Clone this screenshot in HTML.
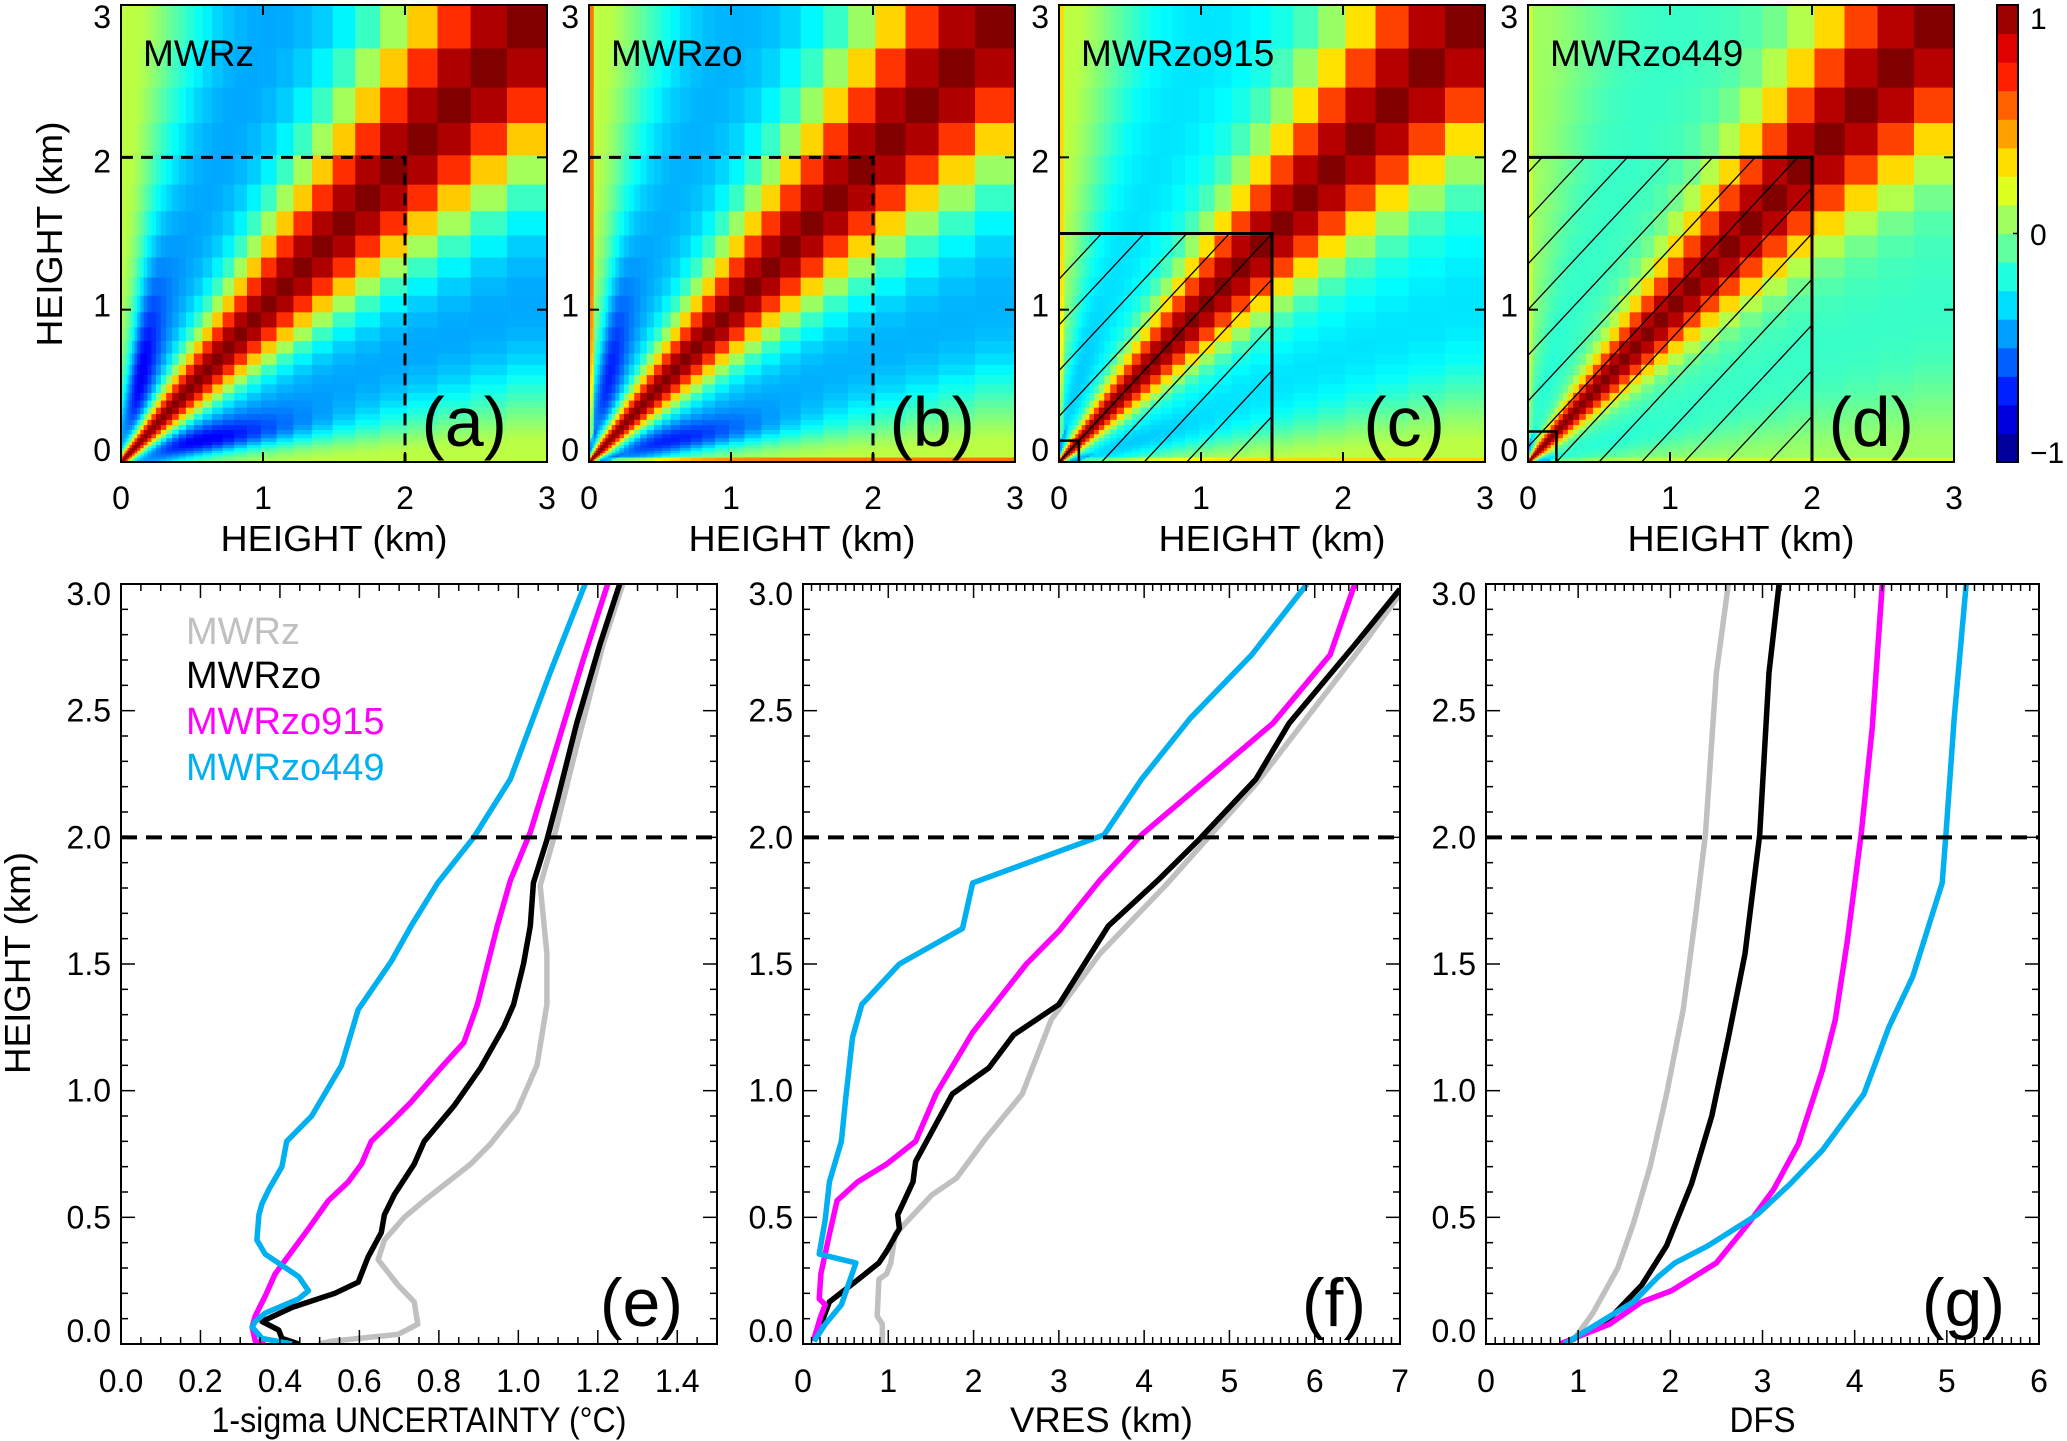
<!DOCTYPE html>
<html><head><meta charset="utf-8">
<style>
html,body{margin:0;padding:0;background:#fff;}
svg{display:block;font-family:"Liberation Sans",sans-serif;}
</style></head>
<body>
<svg id="fig" width="2067" height="1441" viewBox="0 0 2067 1441" xmlns="http://www.w3.org/2000/svg">
<rect x="0" y="0" width="2067" height="1441" fill="#fff"/>
</svg>
<script>
// ---------- DATA ----------
const eZx  = [1.263,1.213,1.147,1.088,1.055,1.072,1.072,1.047,0.997,0.93,0.88,0.763,0.713,0.663,0.647,0.697,0.738,0.747,0.697,0.53,0.497];
const eZh  = [3.0,2.76,2.36,1.99,1.81,1.54,1.34,1.10,0.92,0.79,0.71,0.566,0.50,0.41,0.333,0.233,0.166,0.078,0.038,0.011,0];
const eZOx = [1.255,1.205,1.147,1.097,1.072,1.038,1.03,1.013,0.988,0.963,0.905,0.838,0.763,0.738,0.688,0.663,0.655,0.622,0.597,0.538,0.43,0.355,0.397,0.405,0.447];
const eZOh = [3.0,2.76,2.45,2.14,1.99,1.82,1.65,1.50,1.34,1.25,1.09,0.94,0.80,0.71,0.59,0.51,0.44,0.344,0.244,0.20,0.144,0.089,0.055,0.022,0];
const e915x = [1.225,1.163,1.097,1.03,0.98,0.947,0.897,0.863,0.805,0.73,0.68,0.63,0.605,0.572,0.522,0.472,0.43,0.388,0.363,0.338,0.33,0.338,0.363];
const e915h = [3.0,2.70,2.36,2.02,1.83,1.65,1.34,1.19,1.09,0.955,0.876,0.80,0.71,0.64,0.566,0.455,0.366,0.277,0.189,0.111,0.067,0.011,0];
const e449x = [1.168,1.08,0.98,0.888,0.797,0.73,0.68,0.597,0.555,0.48,0.417,0.405,0.372,0.355,0.347,0.342,0.363,0.447,0.472,0.447,0.363,0.338,0.33,0.355,0.43];
const e449h = [3.0,2.65,2.23,2.0,1.82,1.65,1.51,1.32,1.10,0.90,0.80,0.70,0.61,0.555,0.51,0.41,0.355,0.266,0.21,0.178,0.122,0.089,0.067,0.022,0];
const fZx  = [7.0,6.52,5.31,4.25,3.48,2.91,2.57,2.14,1.80,1.51,1.08,1.03,0.98,0.89,0.87,0.93,0.93];
const fZh  = [2.96,2.74,2.21,1.81,1.54,1.28,0.987,0.81,0.655,0.588,0.433,0.32,0.277,0.255,0.111,0.078,0.004];
const fZOx = [7.0,6.47,5.70,5.31,4.64,4.16,3.58,3.0,2.47,2.18,1.75,1.32,1.29,1.11,1.13,0.98,0.89,0.69,0.31,0.26,0.21];
const fZOh = [2.98,2.76,2.45,2.23,1.99,1.83,1.65,1.34,1.22,1.09,0.987,0.72,0.64,0.51,0.455,0.366,0.32,0.266,0.166,0.122,0.078];
const f915x = [6.47,6.18,5.51,4.74,3.97,3.48,3.0,2.62,1.99,1.56,1.32,0.98,0.64,0.40,0.31,0.21,0.19,0.26,0.21,0.12];
const f915h = [3.0,2.72,2.45,2.23,2.01,1.83,1.63,1.50,1.23,0.987,0.80,0.71,0.64,0.566,0.433,0.277,0.178,0.155,0.111,0.011];
const f449x = [5.91,5.26,4.54,3.97,3.53,1.99,1.87,1.13,0.69,0.58,0.50,0.45,0.31,0.26,0.19,0.62,0.45,0.26,0.13];
const f449h = [3.0,2.72,2.47,2.23,2.01,1.82,1.64,1.50,1.34,1.21,0.965,0.80,0.64,0.49,0.355,0.32,0.155,0.078,0.011];
const gZx  = [2.63,2.50,2.38,2.27,2.14,1.96,1.78,1.60,1.43,1.16,0.94];
const gZh  = [3.0,2.65,2.01,1.68,1.32,0.987,0.70,0.477,0.30,0.122,0.011];
const gZOx = [3.18,3.07,2.97,2.81,2.63,2.45,2.23,1.96,1.69,1.34,0.85];
const gZOh = [3.0,2.65,2.01,1.54,1.21,0.90,0.632,0.388,0.233,0.10,0];
const g915x = [4.30,4.19,4.07,3.92,3.79,3.65,3.39,3.12,2.85,2.50,2.01,1.69,1.34,0.80];
const g915h = [3.0,2.43,2.01,1.59,1.28,1.08,0.79,0.61,0.477,0.32,0.21,0.166,0.078,0];
const g449x = [5.21,5.08,4.99,4.95,4.63,4.37,4.10,3.65,3.30,2.94,2.41,2.05,1.87,1.60,1.25,0.85];
const g449h = [3.0,2.47,2.01,1.82,1.45,1.25,0.987,0.765,0.632,0.51,0.388,0.32,0.266,0.166,0.089,0];
const eTicks = ["0.0","0.2","0.4","0.6","0.8","1.0","1.2","1.4"];
const fTicks = ["0","1","2","3","4","5","6","7"];
const gTicks = ["0","1","2","3","4","5","6"];
const hTicks = ["0.0","0.5","1.0","1.5","2.0","2.5","3.0"];
const topTicks = ["0","1","2","3"];

// ---------- helpers ----------
const NS="http://www.w3.org/2000/svg";
const svg=document.getElementById('fig');
function mk(tag,attrs,parent){const e=document.createElementNS(NS,tag);for(const k in attrs)e.setAttribute(k,attrs[k]);(parent||svg).appendChild(e);return e;}
function txt(s,x,y,size,attrs,parent){const t=mk('text',Object.assign({x:x,y:y,'font-size':size,fill:'#000'},attrs||{}),parent);t.textContent=s;return t;}
function clamp(v){return Math.max(0,Math.min(1,v));}
function jet(t){const r=clamp(1.5-Math.abs(4*t-3)),g=clamp(1.5-Math.abs(4*t-2)),b=clamp(1.5-Math.abs(4*t-1));return `rgb(${Math.round(r*255)},${Math.round(g*255)},${Math.round(b*255)})`;}

// ---------- heatmaps ----------
const N=36;
const edges=[];{let raw=[];for(let k=0;k<=N;k++)raw.push(Math.pow(1.1,k)-1);const mx=raw[N];for(let k=0;k<=N;k++)edges.push(3*raw[k]/mx);}
const panels=[
 {id:'a',x0:121,name:'MWRz',s:3.4,mid:-0.42,far:0.12,low:-0.36,strip:0,corner:0,dash:true},
 {id:'b',x0:589,name:'MWRzo',s:3.3,mid:-0.4,far:0.12,low:-0.3,strip:0.4,corner:-0.35,dash:true},
 {id:'c',x0:1059,name:'MWRzo915',s:3.1,mid:-0.3,far:0.12,low:-0.05,strip:0.2,corner:-0.35,box:1.5,small:0.14,hatch:0.3},
 {id:'d',x0:1528,name:'MWRzo449',s:3.0,mid:-0.14,far:0.06,low:-0.03,strip:0.1,corner:-0.4,box:2.0,small:0.2,hatch:0.3}
];
const TY0=5,TY1=462,TW=426;
function val(i,j,p){const d=Math.abs(i-j),m=Math.min(i,j);
 const core=Math.exp(-Math.pow(d/p.s,2));
 let v=core+p.mid*Math.exp(-Math.pow((d-10)/8,2))*(1-core)+p.far*clamp((d-14)/12);
 v+=p.low*Math.exp(-Math.pow((m-9)/5,2))*Math.exp(-Math.pow((d-11)/6,2));
 if(m<=2&&d>5)v+=p.strip*clamp((d-5)/4);
 if(m<5&&d>=2&&d<9)v+=p.corner*(1-m/5);
 return Math.max(-1,Math.min(1,v));}
panels.forEach(p=>{
 const g=mk('g',{});
 
 
 const sx=km=>p.x0+km/3*TW, sy=km=>TY1-km/3*(TY1-TY0);
 for(let i=0;i<N;i++)for(let j=0;j<N;j++){
  const x1=sx(edges[i]),x2=sx(edges[i+1]),y1=sy(edges[j+1]),y2=sy(edges[j]);
  const r=mk('rect',{x:x1.toFixed(2),y:y1.toFixed(2),width:(x2-x1+0.6).toFixed(2),height:(y2-y1+0.6).toFixed(2),fill:jet((val(i,j,p)+1)/2)},g);
  
  
 }
 if(p.dash){
  mk('path',{d:`M${sx(0)},${sy(2)}H${sx(2)}V${sy(0)}`,stroke:'#000','stroke-width':3,fill:'none','stroke-dasharray':'12,8'},g);
 }
 if(p.box){
  const cid='clip'+p.id;
  const cp=mk('clipPath',{id:cid},g);
  mk('rect',{x:sx(0),y:sy(p.box),width:sx(p.box)-sx(0),height:sy(0)-sy(p.box)},cp);
  const hg=mk('g',{'clip-path':`url(#${cid})`},g);
  
  
  for(let c=-p.box;c<=p.box;c+=p.hatch){
   mk('line',{x1:sx(0),y1:sy(c),x2:sx(3),y2:sy(c+3),stroke:'#000','stroke-width':1.3},hg);
  }
  mk('path',{d:`M${sx(0)},${sy(p.box)}H${sx(p.box)}V${sy(0)}`,stroke:'#000','stroke-width':3,fill:'none'},g);
  mk('path',{d:`M${sx(0)},${sy(p.small)}H${sx(p.small)}V${sy(0)}`,stroke:'#000','stroke-width':2.5,fill:'none'},g);
 }
 mk('rect',{x:p.x0,y:TY0,width:TW,height:TY1-TY0,fill:'none',stroke:'#000','stroke-width':2},g);
 [1,2].forEach(k=>{
  mk('line',{x1:sx(k),y1:TY1,x2:sx(k),y2:TY1-10,stroke:'#000','stroke-width':2},g);
  mk('line',{x1:sx(k),y1:TY0,x2:sx(k),y2:TY0+10,stroke:'#000','stroke-width':2},g);
  mk('line',{x1:p.x0,y1:sy(k),x2:p.x0+10,y2:sy(k),stroke:'#000','stroke-width':2},g);
  mk('line',{x1:p.x0+TW,y1:sy(k),x2:p.x0+TW-10,y2:sy(k),stroke:'#000','stroke-width':2},g);
 });
 const nm=txt(p.name,p.x0+22,66,37,{},g);
 
 
 const pl=txt('('+p.id+')',p.x0+TW-40,446,70,{'text-anchor':'end'},g);
 
 
 topTicks.forEach((s,k)=>{
  const yl=txt(s,p.x0-10,17+(3-k)/3*433+11,32,{'text-anchor':'end'},g);
  
  
  const xl=txt(s,sx(k),509,32,{'text-anchor':'middle'},g);
  
  
 });
 const xt=txt('HEIGHT (km)',p.x0+TW/2,551,36,{'text-anchor':'middle',textLength:227,lengthAdjust:'spacingAndGlyphs'},g);
 
 
});
const yt1=txt('HEIGHT (km)',0,0,36,{'text-anchor':'middle',transform:'translate(62,234) rotate(-90)',textLength:225,lengthAdjust:'spacingAndGlyphs'});



// colorbar
{const g=mk('g',{});
 const L=16,cx=1997,cw=21,h=(TY1-TY0)/L;
 for(let k=0;k<L;k++){mk('rect',{x:cx,y:TY1-(k+1)*h,width:cw,height:h+0.5,fill:jet((k+0.5)/L)},g);}
 mk('rect',{x:cx,y:TY0,width:cw,height:TY1-TY0,fill:'none',stroke:'#000','stroke-width':2},g);
 [['1',18],['0',234],['\u22121',452]].forEach(([s,y])=>{const t=txt(s,2030,y+11,30,{},g);});
 mk('line',{x1:cx+cw,y1:(TY0+TY1)/2,x2:cx+cw-5,y2:(TY0+TY1)/2,stroke:'#000','stroke-width':1.5},g);
}

// ---------- line panels ----------
const BY0=584,BY1=1344;
const lp=[
 {id:'e',x0:121,x1:717,xmax:1.5,ticks:eTicks,tstep:0.2,minor:0.05,title:'1-sigma UNCERTAINTY (\u00B0C)',tl:415,
  series:[[eZx,eZh,'#c0c0c0','mwrz'],[eZOx,eZOh,'#000','mwrzo'],[e915x,e915h,'#ff00ff','mwrzo915'],[e449x,e449h,'#00b0f0','mwrzo449']]},
 {id:'f',x0:803,x1:1400,xmax:7,ticks:fTicks,tstep:1,minor:0.1,title:'VRES (km)',tl:183,
  series:[[fZx,fZh,'#c0c0c0','mwrz'],[fZOx,fZOh,'#000','mwrzo'],[f915x,f915h,'#ff00ff','mwrzo915'],[f449x,f449h,'#00b0f0','mwrzo449']]},
 {id:'g',x0:1486,x1:2039,xmax:6,ticks:gTicks,tstep:1,minor:0.1,title:'DFS',tl:66,
  series:[[gZx,gZh,'#c0c0c0','mwrz'],[gZOx,gZOh,'#000','mwrzo'],[g915x,g915h,'#ff00ff','mwrzo915'],[g449x,g449h,'#00b0f0','mwrzo449']]}
];
lp.forEach(p=>{
 const g=mk('g',{});
 
 
 const sx=v=>p.x0+v/p.xmax*(p.x1-p.x0), sy=h=>BY1-h/3*(BY1-BY0);
 const cid='lclip'+p.id;
 const cp=mk('clipPath',{id:cid},g);
 mk('rect',{x:p.x0,y:BY0,width:p.x1-p.x0,height:BY1-BY0},cp);
 const pg=mk('g',{'clip-path':`url(#${cid})`},g);
 p.series.forEach(([xs,hs,col,nm])=>{
  const pts=xs.map((v,k)=>sx(v).toFixed(1)+','+sy(hs[k]).toFixed(1)).join(' ');
  const pl=mk('polyline',{points:pts,fill:'none',stroke:col,'stroke-width':5.5,'stroke-linejoin':'round','stroke-linecap':'butt'},pg);
  
  
 });
 const dl=mk('line',{x1:p.x0,y1:sy(2),x2:p.x1,y2:sy(2),stroke:'#000','stroke-width':4,'stroke-dasharray':'16,9'},g);
 
 
 mk('rect',{x:p.x0,y:BY0,width:p.x1-p.x0,height:BY1-BY0,fill:'none',stroke:'#000','stroke-width':2},g);
 const nMin=Math.round(p.xmax/p.minor);
 for(let k=0;k<=nMin;k++){const v=k*p.minor;const major=Math.abs(v/p.tstep-Math.round(v/p.tstep))<1e-6;const L=major?14:7;const x=sx(v);
  mk('line',{x1:x,y1:BY1,x2:x,y2:BY1-L,stroke:'#000','stroke-width':1.5},g);
  mk('line',{x1:x,y1:BY0,x2:x,y2:BY0+L,stroke:'#000','stroke-width':1.5},g);}
 for(let k=0;k<=30;k++){const h=k*0.1;const major=k%5===0;const L=major?14:7;const y=sy(h);
  mk('line',{x1:p.x0,y1:y,x2:p.x0+L,y2:y,stroke:'#000','stroke-width':1.5},g);
  mk('line',{x1:p.x1,y1:y,x2:p.x1-L,y2:y,stroke:'#000','stroke-width':1.5},g);}
 p.ticks.forEach((s,k)=>{const t=txt(s,sx(k*p.tstep),1392,32,{'text-anchor':'middle'},g);});
 hTicks.forEach((s,k)=>{let y=sy(k*0.5)+11;if(k===0)y-=13;if(k===6)y+=10;
  const t=txt(s,p.x0-10,y,32,{'text-anchor':'end'},g);});
 const xt=txt(p.title,(p.x0+p.x1)/2,1432,35,{'text-anchor':'middle',textLength:p.tl,lengthAdjust:'spacingAndGlyphs'},g);
 
 
 const lab=txt('('+p.id+')',p.x1-34,1326,68,{'text-anchor':'end'},g);
 
 
});
const yt2=txt('HEIGHT (km)',0,0,36,{'text-anchor':'middle',transform:'translate(30,963) rotate(-90)',textLength:222,lengthAdjust:'spacingAndGlyphs'});


[['MWRz','#c0c0c0',644],['MWRzo','#000',688],['MWRzo915','#ff00ff',734],['MWRzo449','#00b0f0',780]].forEach(([s,c,y])=>{
 const t=txt(s,186,y,38,{fill:c});
 
 
});
</script>
</body></html>
